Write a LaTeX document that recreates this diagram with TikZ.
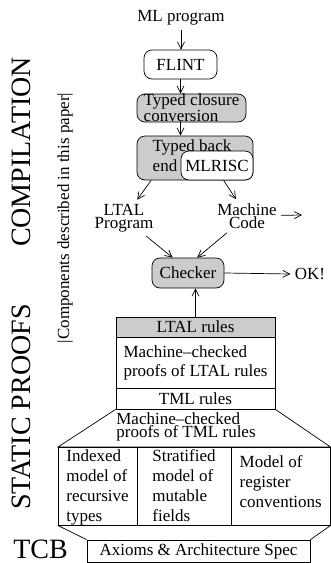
\documentclass[tikz,border=0pt]{standalone}
\usepackage{fontspec}
\setmainfont{Liberation Serif}
\usetikzlibrary{arrows.meta}
\begin{document}
\begin{tikzpicture}[x=1pt, y=-1pt, line width=0.7pt,
	every node/.style={inner sep=0pt, font=\fontsize{17}{13}\selectfont},
	txt/.style={align=center, inner sep=4pt},
	rbox/.style={draw, rounded corners=8pt, fill=white},
	gbox/.style={rbox, fill=black!20},
	cell/.style={draw, align=left, text depth=0pt, minimum height=78pt, font=\fontsize{17}{20}\selectfont},
	side/.style={font=\fontsize{28}{28}\selectfont},
	arr/.style={-{Straight Barb[length=7pt, width=7pt]}}]
	\useasboundingbox (0,0) rectangle (331,563);
	\node[side, rotate=90] (comp) at (21,152) {COMPILATION};
	\node[side, rotate=90] (static) at (21,407) {STATIC PROOFS};
	\node[side] (tcb) at (40.5,549.5) {TCB};
	\node[rotate=90] (paper) at (65,218) {|Components described in this paper|};
	\node[txt] (ml) at (181,18) {ML program};
	\node[rbox, minimum width=73pt, minimum height=29pt] (flint) at (180.5,64.5) {FLINT};
	\node[gbox, minimum width=109pt, minimum height=28pt, align=left] (closure) at (191.5,108) {Typed closure\\conversion};
	\node[gbox, minimum width=116pt, minimum height=44pt] (backend) at (195,158) {};
	\node[align=left, font=\fontsize{17}{20}\selectfont] (backendtxt) at (192,156) {Typed back\\end};
	\node[rbox, minimum width=72pt, minimum height=29pt] (mlrisc) at (217,165.5) {MLRISC};
	\draw[arr] (ml.south) -- (ml.south |- flint.north);
	\draw[arr] (flint.south) -- (flint.south |- closure.north);
	\draw[arr] (flint.south |- closure.south) -- (flint.south |- backend.north);
	\node[txt] (ltal) at (124,218) {LTAL\\Program};
	\node[txt] (machine) at (247,216) {Machine\\Code};
	\coordinate (mcout) at (302,215);
	\draw[arr] (backend.-153) -- (ltal);
	\draw[arr] (backend.-38) -- (machine);
	\draw[arr] (machine) -- (mcout);
	\node[gbox, minimum width=72pt, minimum height=30pt] (checker) at (188,273) {Checker};
	\node[txt] (ok) at (310,274) {OK!};
	\draw[arr] (ltal) -- (checker.135);
	\draw[arr] (machine) -- (checker.59);
	\draw[arr] (checker.east) -- (ok.west);
	\node[draw, fill=black!20, minimum width=159pt, minimum height=20pt] (ltalrules) at (195.5,327) {LTAL rules};
	\node[draw, minimum width=159pt, minimum height=51pt, align=left, font=\fontsize{17}{19}\selectfont] (ltalproofs) at (195.5,363) {Machine--checked\\proofs of LTAL rules};
	\node[draw, minimum width=159pt, minimum height=21pt] (tmlrules) at (195.5,398.5) {TML rules};
	\draw[arr] (ltalrules.north) -- (ltalrules.north |- checker.south);
	\draw (tmlrules.south west) -- (58,447) -- (330.5,447) -- (tmlrules.south east);
	\node[align=left] (tmlproofs) at (186,427) {Machine--checked\\proofs of TML rules};
	\node[cell, minimum width=79pt] (indexed) at (97.5,486) {Indexed\\model of\\recursive\\types};
	\node[cell, minimum width=94pt] (stratified) at (184,486) {Stratified\\model of\\mutable\\fields};
	\node[cell, minimum width=99.5pt, text depth=8pt] (register) at (280.75,486) {Model of\\register\\conventions};
	\node[draw, minimum width=223pt, minimum height=22pt] (axioms) at (198.5,551) {Axioms \& Architecture Spec};
	\draw (indexed.south west) -- (axioms.north west);
	\draw (register.south east) -- (axioms.north east);
\end{tikzpicture}
\end{document}
